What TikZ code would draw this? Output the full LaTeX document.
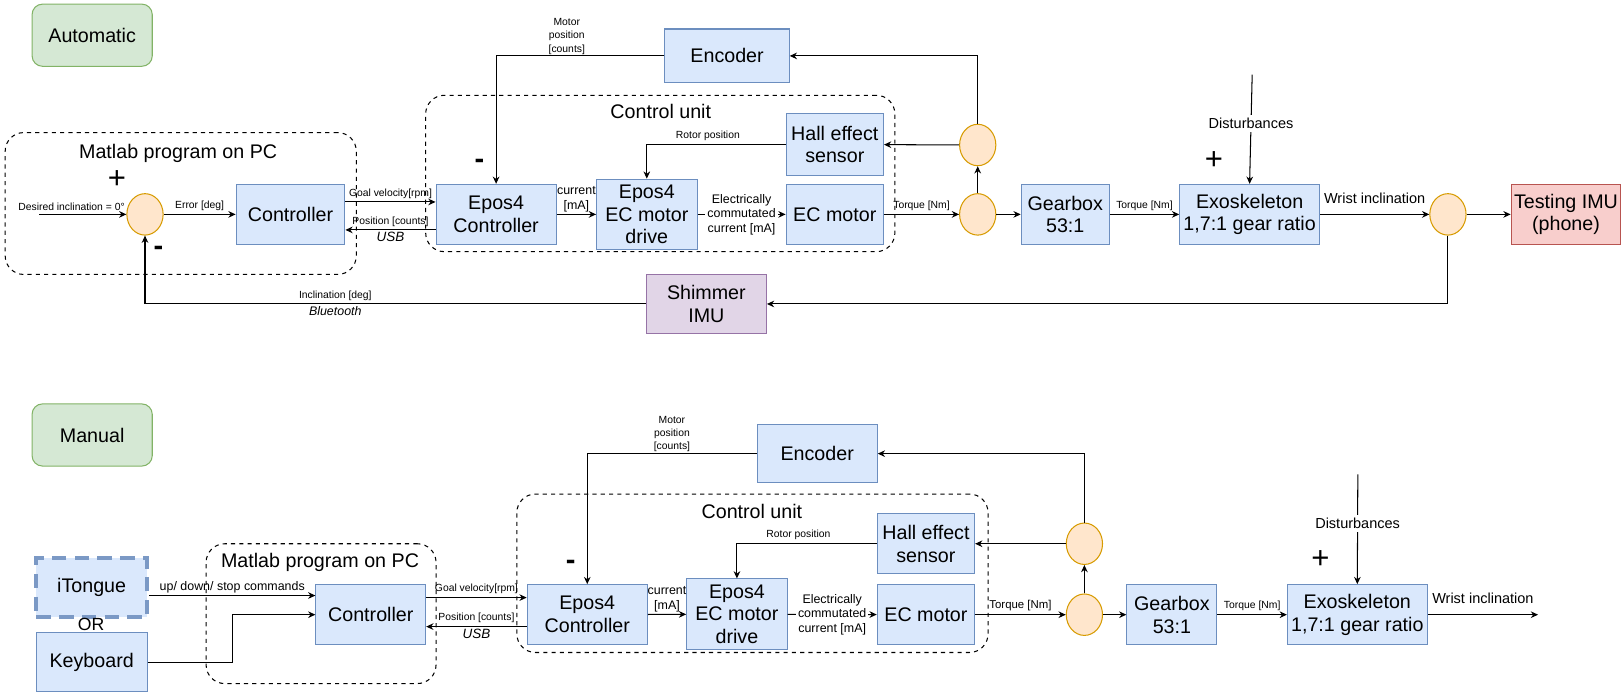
\documentclass[tikz,border=0pt]{standalone}
\usepackage[dvipsnames]{xcolor}
\usepackage{tikz}
\usepackage{fontspec}
\setmainfont{Liberation Sans}
\usetikzlibrary{arrows.meta,shapes.geometric}
\definecolor{bluefill}{HTML}{DAE8FC}
\definecolor{blueline}{HTML}{6C8EBF}
\definecolor{greenfill}{HTML}{D5E8D4}
\definecolor{greenline}{HTML}{82B366}
\definecolor{orangefill}{HTML}{FFE6CC}
\definecolor{orangeline}{HTML}{D79B00}
\definecolor{redfill}{HTML}{F8CECC}
\definecolor{redline}{HTML}{B85450}
\definecolor{purplefill}{HTML}{E1D5E7}
\definecolor{purpleline}{HTML}{9673A6}

\begin{document}
\begin{tikzpicture}[x=0.5pt,y=-0.5pt,line width=0.5pt]
	\tikzstyle{block}=[rectangle,draw=blueline,fill=bluefill,align=center,inner sep=0pt,minimum height=29pt,font=\fontsize{9.5}{11}\selectfont]
	\tikzstyle{sumnode}=[ellipse,draw=orangeline,fill=orangefill,minimum width=17.5pt,minimum height=20pt,inner sep=0pt]
	\tikzstyle{dashgroup}=[rectangle,draw,dash pattern=on 2pt off 2pt,rounded corners=9pt]
	\tikzstyle{grouptitle}=[font=\fontsize{9.5}{11}\selectfont]
	\tikzstyle{modebox}=[rectangle,draw=greenline,fill=greenfill,rounded corners=5pt,minimum width=58pt,minimum height=30pt,font=\fontsize{9.5}{11}\selectfont]
	\tikzstyle{lbl}=[font=\fontsize{5}{6.5}\selectfont,align=center,inner sep=1.5pt]
	\tikzstyle{midlbl}=[font=\fontsize{6}{7}\selectfont,align=center,inner sep=1pt]
	\tikzstyle{biglbl}=[font=\fontsize{7}{8}\selectfont,inner sep=1.5pt]
	\tikzstyle{via}=[font=\fontsize{6.5}{7}\selectfont\itshape,inner sep=1pt]
	\tikzstyle{plus}=[font=\fontsize{15}{15}\selectfont,inner sep=0pt]
	\tikzstyle{minus}=[font=\fontsize{14}{14}\selectfont\bfseries,inner sep=0pt]
	\tikzstyle{sig}=[-{Stealth[length=3.5pt,width=3.2pt]}]
	\useasboundingbox (0,0) rectangle (1568,672);

	% automatic
	\node[modebox](auto1) at (89,34) {Automatic};
	\node[dashgroup,minimum width=169.5pt,minimum height=68.5pt](pc1) at (174.5,196.5) {};
	\node[grouptitle](pct1) at (172,148) {Matlab program on PC};
	\node[dashgroup,minimum width=226.5pt,minimum height=75.5pt](cu1) at (637.5,167.5) {};
	\node[grouptitle](cut1) at (638,108) {Control unit};
	\coordinate (in1) at (38,207);
	\node[sumnode](sum1) at (140,207) {};
	\node[plus](p1) at (113,173) {+};
	\node[minus](m1) at (153,242) {-};
	\node[block,minimum width=52.5pt](ctrl1) at (280.5,207) {Controller};
	\node[block,minimum width=58pt](epos1) at (479,207) {Epos4\\Controller};
	\node[minus](m2) at (463,158) {-};
	\node[block,minimum width=60pt,minimum height=26pt](enc1) at (702,54) {Encoder};
	\node[block,minimum width=48.5pt,minimum height=34pt](drv1) at (624.5,207) {Epos4\\EC motor\\drive};
	\node[block,minimum width=47pt,minimum height=29.5pt](hall1) at (806,139.5) {Hall effect\\sensor};
	\node[block,minimum width=47pt](mot1) at (806,207) {EC motor};
	\node[sumnode](sa1) at (944,207) {};
	\node[sumnode](sb1) at (944,140) {};
	\node[block,minimum width=42.5pt](gear1) at (1028.5,207) {Gearbox\\53:1};
	\node[block,minimum width=67.5pt](exo1) at (1206.5,207) {Exoskeleton\\1,7:1 gear ratio};
	\coordinate (dist1) at (1209,72);
	\node[plus](p2) at (1172,155) {+};
	\node[sumnode](sc1) at (1398,207) {};
	\node[block,draw=redline,fill=redfill,minimum width=53pt](test1) at (1512,207) {Testing IMU\\(phone)};
	\node[block,draw=purpleline,fill=purplefill,minimum width=58pt,minimum height=28.5pt](shim1) at (682,293.5) {Shimmer\\IMU};
	\path[sig]
		(in1) edge node[lbl,above,pos=0.37] {Desired inclination = 0°} (sum1)
		(sum1) edge node[lbl,above] {Error [deg]} (ctrl1)
		([yshift=6pt]ctrl1.east) edge node[lbl,above] {Goal velocity[rpm]} ([yshift=6pt]epos1.west)
		([yshift=-7.5pt]epos1.west) edge node[lbl,above] {Position [counts]} node[via,below] {USB} ([yshift=-7.5pt]ctrl1.east)
		(epos1) edge node[midlbl,above] {current\\{}[mA]} (drv1)
		(drv1) edge node[midlbl,fill=white] {Electrically\\commutated\\current [mA]} (mot1)
		(mot1) edge node[lbl,above] {Torque [Nm]} (sa1)
		(sa1) edge (sb1)
		(sb1) edge (hall1)
		(sa1) edge (gear1)
		(gear1) edge node[lbl,above] {Torque [Nm]} (exo1)
		(dist1) edge node[biglbl,fill=white,pos=0.45] {Disturbances} (exo1.north)
		(exo1) edge node[biglbl,above,inner sep=5pt] {Wrist inclination} (sc1)
		(sc1) edge (test1);
	\draw[sig] (enc1.west) -| (epos1.north) node[lbl,pos=0.29,above,inner sep=0.5pt] {Motor\\position\\{}[counts]};
	\draw[sig] (hall1.west) -| (drv1.north) node[lbl,pos=0.28,above] {Rotor position};
	\draw[sig] (sb1.north) |- (enc1.east);
	\draw[sig] (sc1.south) |- (shim1.east);
	\draw[sig] (shim1.west) -| (sum1.south) node[lbl,pos=0.31,above] {Inclination [deg]} node[via,pos=0.31,below,font=\fontsize{6}{7}\selectfont\itshape] {Bluetooth};

	% manual
	\node[modebox](man1) at (89,420) {Manual};
	\node[block,draw=blueline!90,line width=2pt,dash pattern=on 7pt off 4pt,minimum width=53.5pt,minimum height=28.5pt](it1) at (88.5,567.5) {iTongue};
	\node[font=\fontsize{8.5}{9}\selectfont,inner sep=0pt](or1) at (88,603) {OR};
	\node[block,minimum width=53.5pt,minimum height=28.5pt](key1) at (88.5,639.5) {Keyboard};
	\node[dashgroup,minimum width=111pt,minimum height=67.5pt](pc2) at (310,592.5) {};
	\node[grouptitle](pct2) at (309,543) {Matlab program on PC};
	\node[dashgroup,minimum width=227.5pt,minimum height=76.5pt](cu2) at (726.5,553.5) {};
	\node[grouptitle](cut2) at (726,494) {Control unit};
	\node[block,minimum width=53pt](ctrl2) at (358,593.5) {Controller};
	\node[block,minimum width=58pt](epos2) at (567,593.5) {Epos4\\Controller};
	\node[minus](m3) at (551,545) {-};
	\node[block,minimum width=58pt,minimum height=28pt](enc2) at (789,438) {Encoder};
	\node[block,minimum width=48.5pt,minimum height=34pt](drv2) at (711.5,593) {Epos4\\EC motor\\drive};
	\node[block,minimum width=47pt](hall2) at (894,525) {Hall effect\\sensor};
	\node[block,minimum width=47pt](mot2) at (894,593.5) {EC motor};
	\node[sumnode](sa2) at (1047,593.5) {};
	\node[sumnode](sb2) at (1047,525) {};
	\node[block,minimum width=43.5pt](gear2) at (1131.5,593.5) {Gearbox\\53:1};
	\node[block,minimum width=67.5pt](exo2) at (1310.5,593.5) {Exoskeleton\\1,7:1 gear ratio};
	\coordinate (dist2) at (1311,458);
	\node[plus](p3) at (1275,540) {+};
	\coordinate (out2) at (1485,593.5);
	\draw[sig] ([yshift=-3.75pt]it1.east) coordinate (a2) -- (a2 -| ctrl2.west) node[midlbl,midway,above] {up/ down/ stop commands};
	\draw[sig] (key1.east) -- ++(82,0) |- (ctrl2.west);
	\path[sig]
		([yshift=8.25pt]ctrl2.east) edge node[lbl,above] {Goal velocity[rpm]} ([yshift=8.25pt]epos2.west)
		([yshift=-5.75pt]epos2.west) edge node[lbl,above] {Position [counts]} node[via,below] {USB} ([yshift=-5.75pt]ctrl2.east)
		(epos2) edge node[midlbl,above] {current\\{}[mA]} (drv2)
		(drv2) edge node[midlbl,fill=white] {Electrically\\commutated\\current [mA]} (mot2)
		(mot2) edge node[lbl,above,font=\fontsize{5.5}{6.5}\selectfont] {Torque [Nm]} (sa2)
		(sa2) edge (sb2)
		(sb2) edge (hall2)
		(sa2) edge (gear2)
		(gear2) edge node[lbl,above] {Torque [Nm]} (exo2)
		(dist2) edge node[biglbl,fill=white,pos=0.45] {Disturbances} (exo2.north)
		(exo2) edge node[biglbl,above,inner sep=5pt] {Wrist inclination} (out2);
	\draw[sig] (enc2.west) -| (epos2.north) node[lbl,pos=0.25,above,inner sep=0.5pt] {Motor\\position\\{}[counts]};
	\draw[sig] (hall2.west) -| (drv2.north) node[lbl,pos=0.28,above] {Rotor position};
	\draw[sig] (sb2.north) |- (enc2.east);
\end{tikzpicture}
\end{document}
